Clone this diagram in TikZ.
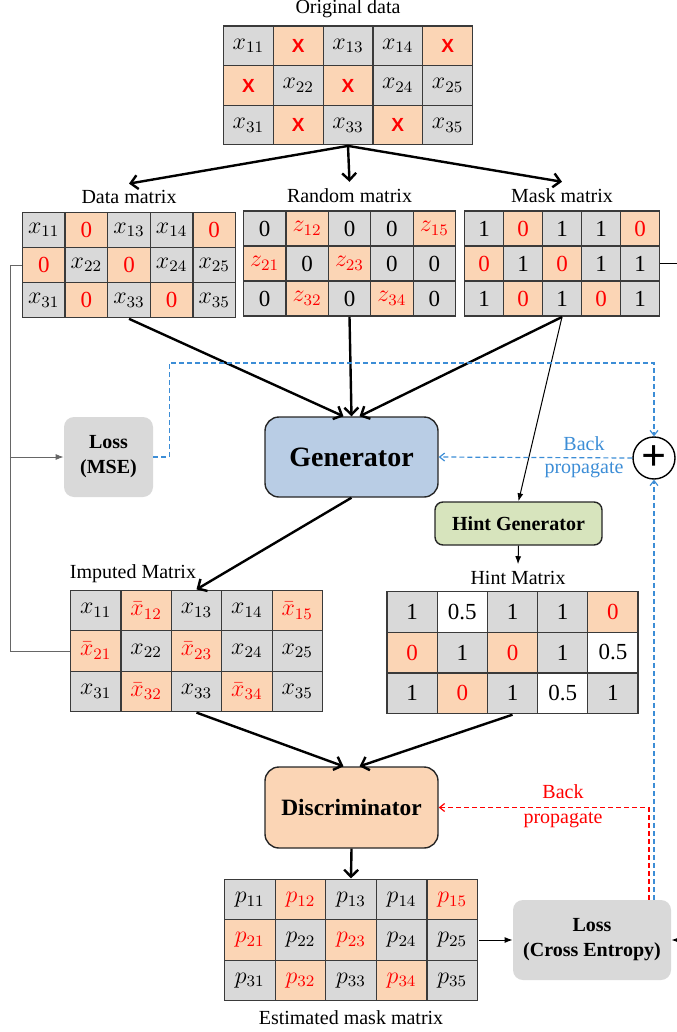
\documentclass[tikz,border=0pt]{standalone}
\usepackage{amsmath}
\usepackage{fontspec}
\setmainfont{Liberation Serif}
\setsansfont{Liberation Sans}
\usetikzlibrary{arrows.meta,positioning,matrix,calc}
\definecolor{CellGray}{HTML}{D9D9D9}
\definecolor{CellMiss}{HTML}{FBD5B5}
\definecolor{CellLine}{HTML}{3A3A3A}
\definecolor{GenBlue}{HTML}{B9CDE5}
\definecolor{HintGreen}{HTML}{D7E4BD}
\definecolor{LossGray}{HTML}{D9D9D9}
\definecolor{BackBlue}{HTML}{3C8DD6}
\definecolor{BackRed}{HTML}{FF0000}
\newcommand{\mX}{{\fontsize{9.5}{11}\sffamily\bfseries X}}
\tikzset{
  cellmat/.style 2 args={matrix of nodes,inner sep=0pt,column sep=-0.6pt,row sep=-0.6pt,
    nodes={draw=CellLine,line width=0.6pt,fill=CellGray,minimum width=#1,minimum height=#2,
      inner sep=0pt,anchor=center,font=\fontsize{11.5}{13}\selectfont}},
  miss/.style={fill=CellMiss,text=red},
  half/.style={fill=white},
  block/.style={draw=black!85,line width=0.7pt,align=center,inner sep=0pt,font=\bfseries},
  lossbox/.style={fill=LossGray,rounded corners=5pt,align=center,inner sep=0pt,
    font=\fontsize{10}{12.5}\selectfont\bfseries},
  fat/.style={line width=1.2pt,-{Straight Barb[length=3.5pt,width=7pt]}},
  slim/.style={line width=0.5pt,-{Latex[length=4pt,width=3pt]}},
  bdash/.style={draw=BackBlue,line width=0.6pt,dash pattern=on 2.5pt off 1.5pt,-{Straight Barb[length=2.5pt,width=4pt]}},
  rdash/.style={draw=BackRed,line width=0.6pt,dash pattern=on 2.5pt off 1.5pt,-{Straight Barb[length=2.5pt,width=4pt]}}
}
\begin{document}
\begin{tikzpicture}[x=0.5pt,y=-0.5pt,font=\fontsize{10}{12}\selectfont]
  \useasboundingbox (0,0) rectangle (676,1032);
  \matrix (om) [cellmat={24.9pt}{19.8pt}] at (348,85.5) {
    $x_{11}$ & |[miss]| \mX & $x_{13}$ & $x_{14}$ & |[miss]| \mX \\
    |[miss]| \mX & $x_{22}$ & |[miss]| \mX & $x_{24}$ & $x_{25}$ \\
    $x_{31}$ & |[miss]| \mX & $x_{33}$ & |[miss]| \mX & $x_{35}$ \\
  };
  \node[above=0pt of om] (omlab) {Original data};
  \matrix (dm) [cellmat={21.3pt}{17.6pt}] at (129,265) {
    $x_{11}$ & |[miss]| 0 & $x_{13}$ & $x_{14}$ & |[miss]| 0 \\
    |[miss]| 0 & $x_{22}$ & |[miss]| 0 & $x_{24}$ & $x_{25}$ \\
    $x_{31}$ & |[miss]| 0 & $x_{33}$ & |[miss]| 0 & $x_{35}$ \\
  };
  \node[above=0pt of dm] (dmlab) {Data matrix};
  \matrix (rm) [cellmat={21.2pt}{17.5pt}] at (349.5,263.5) {
    0 & |[miss]| $z_{12}$ & 0 & 0 & |[miss]| $z_{15}$ \\
    |[miss]| $z_{21}$ & 0 & |[miss]| $z_{23}$ & 0 & 0 \\
    0 & |[miss]| $z_{32}$ & 0 & |[miss]| $z_{34}$ & 0 \\
  };
  \node[above=0pt of rm] (rmlab) {Random matrix};
  \matrix (mm) [cellmat={19.5pt}{17.5pt}] at (562,263.5) {
    1 & |[miss]| 0 & 1 & 1 & |[miss]| 0 \\
    |[miss]| 0 & 1 & |[miss]| 0 & 1 & 1 \\
    1 & |[miss]| 0 & 1 & |[miss]| 0 & 1 \\
  };
  \node[above=0pt of mm] (mmlab) {Mask matrix};
  \node[block,fill=GenBlue,rounded corners=7pt,minimum width=86.5pt,minimum height=40pt,
    font=\fontsize{14}{17}\selectfont\bfseries] (gen) at (351.5,457) {Generator};
  \node[lossbox,minimum width=44.5pt,minimum height=40pt] (mse) at (108.5,457) {Loss\\(MSE)};
  \node[draw,circle,line width=0.7pt,minimum size=21pt,inner sep=0pt] (plus) at (654,458) {\fontsize{22}{22}\selectfont\bfseries +};
  \node[block,fill=HintGreen,rounded corners=4pt,minimum width=83.5pt,minimum height=21.5pt] (hg) at (518.5,523.5) {Hint Generator};
  \node (hmlab) at (518,578) {Hint Matrix};
  \matrix (hm) [cellmat={25.1pt}{20.4pt}] at (512.5,652.5) {
    1 & |[half]| 0.5 & 1 & 1 & |[miss]| 0 \\
    |[miss]| 0 & 1 & |[miss]| 0 & 1 & |[half]| 0.5 \\
    1 & |[miss]| 0 & 1 & |[half]| 0.5 & 1 \\
  };
  \matrix (im) [cellmat={25.2pt}{20.2pt}] at (196.5,651) {
    $x_{11}$ & |[miss]| $\bar{x}_{12}$ & $x_{13}$ & $x_{14}$ & |[miss]| $\bar{x}_{15}$ \\
    |[miss]| $\bar{x}_{21}$ & $x_{22}$ & |[miss]| $\bar{x}_{23}$ & $x_{24}$ & $x_{25}$ \\
    $x_{31}$ & |[miss]| $\bar{x}_{32}$ & $x_{33}$ & |[miss]| $\bar{x}_{34}$ & $x_{35}$ \\
  };
  \node[anchor=south west,inner xsep=0pt] (imlab) at (im.north west) {Imputed Matrix};
  \node[block,fill=CellMiss,rounded corners=7pt,minimum width=86.5pt,minimum height=40.5pt,
    font=\fontsize{11.7}{14}\selectfont\bfseries] (disc) at (351.5,807.5) {Discriminator};
  \matrix (em) [cellmat={25.3pt}{20.2pt}] at (351,940) {
    $p_{11}$ & |[miss]| $p_{12}$ & $p_{13}$ & $p_{14}$ & |[miss]| $p_{15}$ \\
    |[miss]| $p_{21}$ & $p_{22}$ & |[miss]| $p_{23}$ & $p_{24}$ & $p_{25}$ \\
    $p_{31}$ & |[miss]| $p_{32}$ & $p_{33}$ & |[miss]| $p_{34}$ & $p_{35}$ \\
  };
  \node[below=1pt of em] (emlab) {Estimated mask matrix};
  \node[lossbox,minimum width=79pt,minimum height=40pt] (lce) at (592,940) {Loss\\(Cross Entropy)};
  \draw[fat] (om.south) -- (dmlab.north);
  \draw[fat] (om.south) -- (rmlab.north);
  \draw[fat] (om.south) -- (mmlab.north);
  \draw[fat] (dm.south) -- ([xshift=-4pt]gen.north);
  \draw[fat] (rm.south) -- (gen.north);
  \draw[fat] (mm.south) -- ([xshift=4pt]gen.north);
  \draw[slim] (mm.south) -- (hg.north);
  \draw[slim] (hg.south) -- (hmlab.north);
  \draw[fat] (gen.south) -- (im.north);
  \draw[fat] (im.south) -- ([xshift=-4pt]disc.north);
  \draw[fat] (hm.south) -- ([xshift=4pt]disc.north);
  \draw[fat] (disc.south) -- (em.north);
  \draw[slim] (em.east) -- (lce.west);
  \draw[line width=0.4pt,draw=black!60] (dm-2-1.west) -- ++(-12,0) coordinate (lturn) |- (im-2-1.west);
  \draw[slim,draw=black!60,line width=0.4pt] (lturn |- mse.west) -- (mse.west);
  \draw[slim] (mm-2-5.east) -- ++(26,0) |- (lce.east);
  \coordinate (bptop) at (654,363);
  \draw[bdash] (mse.east) -- ++(16,0) |- (bptop) -- (plus.north);
  \draw[bdash] (plus.west) -- (gen.east);
  \draw[bdash] (lce.north -| plus.south) -- (plus.south);
  \node[text=BackBlue,align=center,font=\fontsize{10}{11.5}\selectfont] (bplab) at (584,457) {Back\\propagate};
  \coordinate (rpturn) at (649,808);
  \draw[rdash] (lce.north -| rpturn) |- (disc.east);
  \node[text=BackRed,align=center,font=\fontsize{10}{12.5}\selectfont] (rplab) at (563,806) {Back\\propagate};
\end{tikzpicture}
\end{document}
